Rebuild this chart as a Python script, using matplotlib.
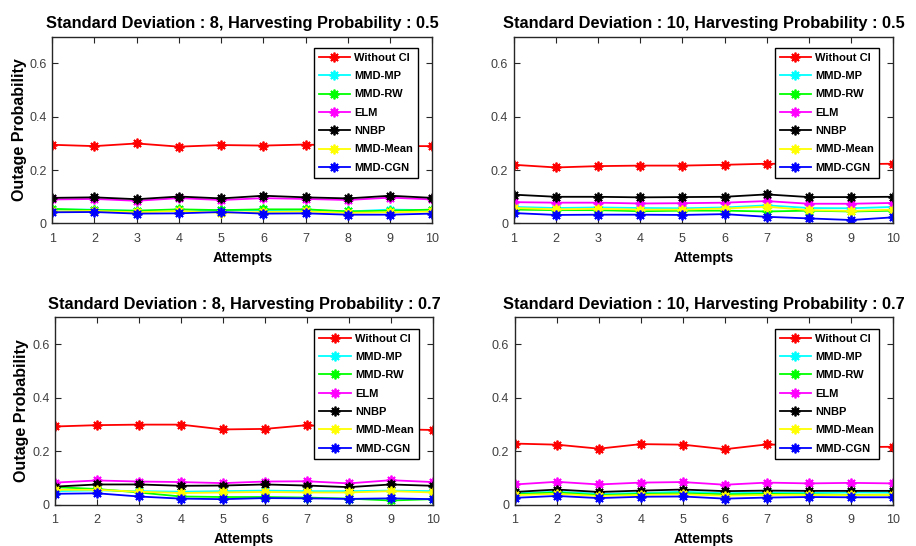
import matplotlib
matplotlib.use("Agg")
import matplotlib.pyplot as plt

plt.rcParams['font.family'] = ['Liberation Sans', 'DejaVu Sans']

attempts = [1, 2, 3, 4, 5, 6, 7, 8, 9, 10]
methods = ["Without CI", "MMD-MP", "MMD-RW", "ELM", "NNBP", "MMD-Mean", "MMD-CGN"]
colors = ["#ff0000", "#00ffff", "#00ff00", "#ff00ff", "#000000", "#ffff00", "#0000ff"]

titles = [
    "Standard Deviation : 8, Harvesting Probability : 0.5",
    "Standard Deviation : 10, Harvesting Probability : 0.5",
    "Standard Deviation : 8, Harvesting Probability : 0.7",
    "Standard Deviation : 10, Harvesting Probability : 0.7",
]

# SD 8, HP 0.5
p1_without = [0.295, 0.290, 0.300, 0.288, 0.294, 0.292, 0.296, 0.290, 0.290, 0.290]
p1_mp      = [0.052, 0.052, 0.047, 0.050, 0.050, 0.050, 0.050, 0.045, 0.052, 0.050]
p1_rw      = [0.055, 0.050, 0.048, 0.053, 0.050, 0.053, 0.053, 0.045, 0.048, 0.052]
p1_elm     = [0.090, 0.092, 0.085, 0.095, 0.088, 0.095, 0.092, 0.088, 0.097, 0.090]
p1_nnbp    = [0.096, 0.098, 0.091, 0.101, 0.094, 0.104, 0.098, 0.094, 0.104, 0.096]
p1_mean    = [0.045, 0.047, 0.042, 0.047, 0.040, 0.043, 0.045, 0.040, 0.042, 0.045]
p1_cgn     = [0.042, 0.043, 0.037, 0.038, 0.043, 0.037, 0.038, 0.033, 0.033, 0.037]

# SD 10, HP 0.5
p2_without = [0.220, 0.210, 0.215, 0.217, 0.217, 0.220, 0.224, 0.222, 0.222, 0.224]
p2_mp      = [0.062, 0.058, 0.060, 0.058, 0.057, 0.060, 0.068, 0.058, 0.057, 0.062]
p2_rw      = [0.052, 0.050, 0.050, 0.046, 0.048, 0.048, 0.045, 0.048, 0.045, 0.048]
p2_elm     = [0.080, 0.078, 0.078, 0.075, 0.076, 0.078, 0.084, 0.074, 0.074, 0.077]
p2_nnbp    = [0.108, 0.100, 0.100, 0.098, 0.099, 0.100, 0.109, 0.099, 0.099, 0.100]
p2_mean    = [0.058, 0.053, 0.055, 0.052, 0.052, 0.056, 0.063, 0.050, 0.047, 0.052]
p2_cgn     = [0.039, 0.032, 0.033, 0.033, 0.032, 0.035, 0.025, 0.019, 0.013, 0.023]

# SD 8, HP 0.7
p3_without = [0.292, 0.297, 0.299, 0.299, 0.281, 0.283, 0.297, 0.287, 0.282, 0.279]
p3_mp      = [0.050, 0.053, 0.050, 0.048, 0.050, 0.052, 0.050, 0.050, 0.052, 0.050]
p3_rw      = [0.065, 0.058, 0.045, 0.030, 0.028, 0.028, 0.026, 0.022, 0.015, 0.020]
p3_elm     = [0.082, 0.090, 0.086, 0.084, 0.080, 0.086, 0.087, 0.079, 0.091, 0.084]
p3_nnbp    = [0.067, 0.075, 0.075, 0.070, 0.071, 0.075, 0.071, 0.065, 0.075, 0.070]
p3_mean    = [0.055, 0.055, 0.048, 0.043, 0.045, 0.047, 0.045, 0.045, 0.050, 0.045]
p3_cgn     = [0.040, 0.042, 0.030, 0.022, 0.020, 0.024, 0.023, 0.021, 0.023, 0.020]

# SD 10, HP 0.7
p4_without = [0.228, 0.224, 0.209, 0.226, 0.224, 0.207, 0.225, 0.220, 0.215, 0.216]
p4_mp      = [0.042, 0.048, 0.040, 0.043, 0.048, 0.042, 0.045, 0.043, 0.045, 0.045]
p4_rw      = [0.038, 0.045, 0.035, 0.040, 0.042, 0.038, 0.040, 0.038, 0.036, 0.037]
p4_elm     = [0.075, 0.085, 0.075, 0.082, 0.084, 0.074, 0.082, 0.079, 0.081, 0.079]
p4_nnbp    = [0.047, 0.056, 0.047, 0.052, 0.056, 0.050, 0.052, 0.051, 0.051, 0.051]
p4_mean    = [0.035, 0.040, 0.032, 0.036, 0.038, 0.033, 0.036, 0.036, 0.035, 0.036]
p4_cgn     = [0.025, 0.032, 0.024, 0.029, 0.030, 0.022, 0.026, 0.028, 0.027, 0.027]

panels = [
    [p1_without, p1_mp, p1_rw, p1_elm, p1_nnbp, p1_mean, p1_cgn],
    [p2_without, p2_mp, p2_rw, p2_elm, p2_nnbp, p2_mean, p2_cgn],
    [p3_without, p3_mp, p3_rw, p3_elm, p3_nnbp, p3_mean, p3_cgn],
    [p4_without, p4_mp, p4_rw, p4_elm, p4_nnbp, p4_mean, p4_cgn],
]

positions = [
    [0.0570, 0.5907, 0.4150, 0.3420],
    [0.5610, 0.5907, 0.4140, 0.3420],
    [0.0600, 0.0760, 0.4125, 0.3425],
    [0.5620, 0.0760, 0.4130, 0.3425],
]

asterisk = (8, 2, 0)

fig = plt.figure(figsize=(9.16, 5.46), dpi=100)
axis_col = "#262626"
for i in range(4):
    ax = fig.add_axes(positions[i])
    for series, name, col in zip(panels[i], methods, colors):
        ax.plot(attempts, series, color=col, lw=1.3, marker=asterisk, ms=7,
                mew=1.3, label=name)
    ax.set_xlim(1, 10)
    ax.set_ylim(0, 0.7)
    ax.set_xticks(attempts)
    ax.set_yticks([0, 0.2, 0.4, 0.6])
    ax.set_yticklabels(["0", "0.2", "0.4", "0.6"])
    ax.tick_params(direction='in', top=True, right=True, length=4,
                   labelsize=9, colors=axis_col, labelcolor="#404040")
    ax.tick_params(axis='x', pad=7)
    ax.tick_params(axis='y', pad=4)
    for s in ax.spines.values():
        s.set_color(axis_col)
        s.set_linewidth(1.0)
    ax.set_title(titles[i], fontsize=11.8, fontweight='bold', pad=6)
    ax.set_xlabel("Attempts", fontsize=10, fontweight='bold', labelpad=4)
    if i in (0, 2):
        ax.set_ylabel("Outage Probability", fontsize=11.5, fontweight='bold', labelpad=2)
    leg = ax.legend(loc='upper right', bbox_to_anchor=(0.963, 0.941),
                    borderaxespad=0, fancybox=False, framealpha=1,
                    edgecolor='black', handlelength=2.8, labelspacing=0.75,
                    handletextpad=0.4, borderpad=0.45,
                    prop={'weight': 'bold', 'size': 8})
    leg.get_frame().set_linewidth(1.0)

fig.savefig("out.png", dpi=100)
